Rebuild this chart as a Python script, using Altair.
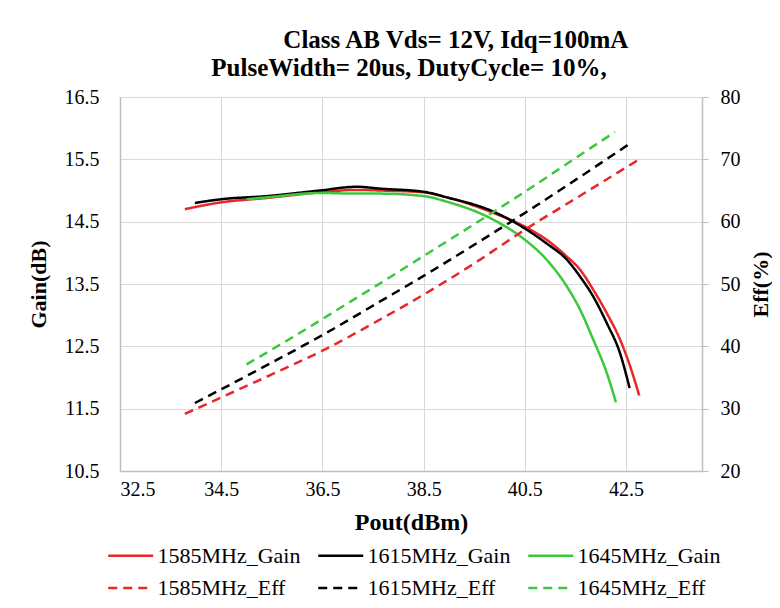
import altair as alt
import pandas as pd

# ---------------- data ----------------
series_order = ["1585MHz_Gain", "1615MHz_Gain", "1645MHz_Gain",
                "1585MHz_Eff", "1615MHz_Eff", "1645MHz_Eff"]

pout_1585_gain = [33.78, 34.5, 35.4, 36.45, 37.18, 37.64, 38.5, 38.96, 39.88, 40.5, 40.93,
                  41.33, 41.59, 41.85, 42.12, 42.38, 42.58, 42.76]
gain_1585 = [14.70, 14.81, 14.88, 14.97, 15.01, 15.00, 14.97, 14.89, 14.64, 14.42, 14.21,
             13.94, 13.73, 13.41, 13.03, 12.61, 12.18, 11.71]

pout_1615_gain = [33.98, 34.5, 35.4, 36.45, 37.18, 37.64, 38.5, 38.96, 39.88, 40.5, 40.93,
                  41.33, 41.59, 41.85, 42.12, 42.38, 42.57]
gain_1615 = [14.80, 14.86, 14.91, 15.00, 15.06, 15.03, 14.98, 14.89, 14.66, 14.39, 14.15,
             13.89, 13.62, 13.30, 12.87, 12.39, 11.83]

pout_1645_gain = [35.0, 35.4, 36.45, 37.18, 37.64, 38.5, 38.96, 39.88, 40.5, 40.93,
                  41.33, 41.59, 41.85, 42.12, 42.30]
gain_1645 = [14.86, 14.89, 14.96, 14.95, 14.95, 14.91, 14.82, 14.53, 14.21, 13.89,
             13.46, 13.09, 12.61, 12.07, 11.60]

pout_1585_eff = [33.78, 34.5, 35.5, 36.5, 37.64, 38.5, 39.5, 40.5, 41.5, 42.76]
eff_1585 = [29.15, 31.8, 35.5, 39.3, 44.3, 48.3, 53.3, 58.7, 63.7, 70.0]

pout_1615_eff = [33.98, 34.5, 35.5, 36.5, 37.64, 38.5, 39.5, 40.5, 41.5, 42.57]
eff_1615 = [30.9, 33.1, 37.4, 41.8, 47.2, 51.3, 56.3, 61.4, 66.7, 72.5]

pout_1645_eff = [35.0, 36.0, 37.0, 37.64, 38.5, 39.5, 40.5, 41.5, 42.28]
eff_1645 = [37.1, 41.9, 46.9, 50.1, 54.5, 59.6, 64.8, 70.2, 74.4]

x_ticks = [32.5, 34.5, 36.5, 38.5, 40.5, 42.5]
gain_ticks = [10.5, 11.5, 12.5, 13.5, 14.5, 15.5, 16.5]
eff_ticks = [20, 30, 40, 50, 60, 70, 80]

title_lines = ["\u200b" + "\u00a0" * 15 + "Class AB Vds= 12V, Idq=100mA",
               "PulseWidth= 20us, DutyCycle= 10%,"]

colors = ["#e8272b", "#000000", "#3cc83c", "#e8272b", "#000000", "#3cc83c"]
dashes = [[1, 0], [1, 0], [1, 0], [9, 6], [9, 6], [9, 6]]

# ---------------- tables ----------------
gain_rows = []
for name, xs, ys in [("1585MHz_Gain", pout_1585_gain, gain_1585),
                     ("1615MHz_Gain", pout_1615_gain, gain_1615),
                     ("1645MHz_Gain", pout_1645_gain, gain_1645)]:
    for x, y in zip(xs, ys):
        gain_rows.append({"series": name, "pout": x, "gain": y})
gain_df = pd.DataFrame(gain_rows)

eff_rows = []
for name, xs, ys in [("1585MHz_Eff", pout_1585_eff, eff_1585),
                     ("1615MHz_Eff", pout_1615_eff, eff_1615),
                     ("1645MHz_Eff", pout_1645_eff, eff_1645)]:
    for x, y in zip(xs, ys):
        eff_rows.append({"series": name, "pout": x, "eff": y})
eff_df = pd.DataFrame(eff_rows)

FONT = "Liberation Serif"

x_enc = alt.X("pout:Q",
              scale=alt.Scale(domain=[32.5, 44.0], nice=False, zero=False),
              axis=alt.Axis(values=x_ticks, title="Pout(dBm)", format=".1f",
                            ticks=False, labelPadding=8, titlePadding=11,
                            grid=True))

legend_params = dict(title=None, orient="none", legendX=-13, legendY=446,
                     direction="horizontal", columns=3, symbolType="M-1,0H3",
                     symbolSize=506, symbolStrokeWidth=2.5, labelFont=FONT,
                     labelFontSize=22, labelColor="#000000", labelLimit=300,
                     columnPadding=12, rowPadding=8.5, labelOffset=25.5)

color_enc = alt.Color("series:N",
                      scale=alt.Scale(domain=series_order, range=colors),
                      legend=alt.Legend(**legend_params))
dash_enc = alt.StrokeDash("series:N",
                          scale=alt.Scale(domain=series_order, range=dashes),
                          legend=alt.Legend(**legend_params))

gain_chart = alt.Chart(gain_df).mark_line(strokeWidth=2.5, interpolate="monotone").encode(
    x=x_enc,
    y=alt.Y("gain:Q",
            scale=alt.Scale(domain=[10.5, 16.5], nice=False, zero=False),
            axis=alt.Axis(values=gain_ticks, format=".1f", title="Gain(dB)", orient="left",
                          ticks=False, labelPadding=21, titlePadding=14, grid=True)),
    color=color_enc,
    strokeDash=dash_enc,
)

eff_chart = alt.Chart(eff_df).mark_line(strokeWidth=2.5, interpolate="monotone").encode(
    x=x_enc,
    y=alt.Y("eff:Q",
            scale=alt.Scale(domain=[20, 80], nice=False, zero=False),
            axis=alt.Axis(values=eff_ticks, title="Eff(%)", orient="right",
                          ticks=True, tickSize=6, tickColor="#bfbfbf", labelPadding=12,
                          titlePadding=32, titleAngle=270, grid=False)),
    color=color_enc,
    strokeDash=dash_enc,
)

chart = alt.layer(gain_chart, eff_chart).resolve_scale(y="independent").properties(
    width=582, height=374,
    autosize=alt.AutoSizeParams(type="none"),
    padding={"left": 112, "top": 89, "right": 70, "bottom": 129},
    title=alt.TitleParams(text=title_lines, font=FONT, fontSize=25, fontWeight="bold",
                          color="#000000", anchor="middle", frame="group",
                          lineHeight=28, dx=-2, offset=6),
).configure_view(stroke=None).configure_axis(
    labelFont=FONT, labelFontSize=20, labelColor="#000000",
    titleFont=FONT, titleFontSize=22, titleFontWeight="bold", titleColor="#000000",
    domainColor="#bfbfbf", domainWidth=1.5, gridColor="#d9d9d9", gridWidth=1,
).configure_axisX(titleFontSize=24)

chart.save("out.html", embed_options={"renderer": "svg", "actions": False})
